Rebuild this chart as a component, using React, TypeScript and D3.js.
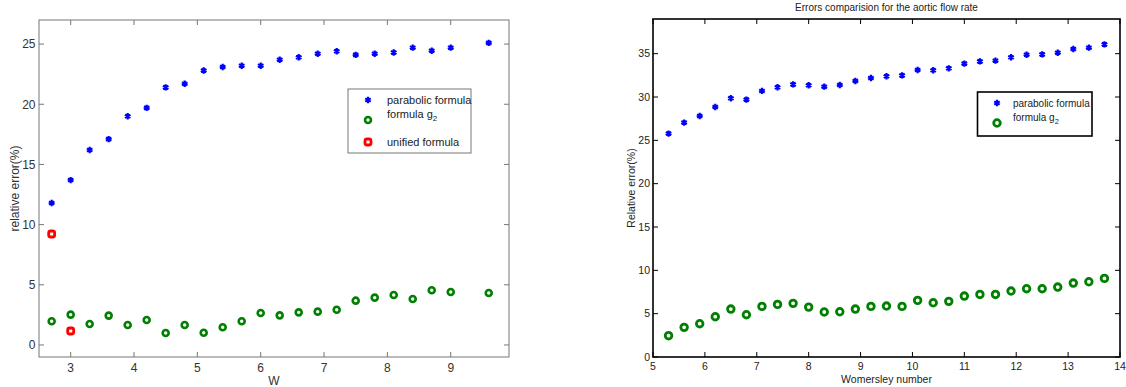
import React from 'react';
import * as d3 from 'd3';

// left panel: relative error vs W
const leftW = [2.7, 3.0, 3.3, 3.6, 3.9, 4.2, 4.5, 4.8, 5.1, 5.4, 5.7, 6.0, 6.3, 6.6, 6.9, 7.2, 7.5, 7.8, 8.1, 8.4, 8.7, 9.0, 9.6];
const leftParabolic = [11.8, 13.7, 16.2, 17.1, 19.0, 19.7, 21.4, 21.7, 22.8, 23.1, 23.2, 23.2, 23.7, 23.9, 24.2, 24.4, 24.1, 24.2, 24.3, 24.7, 24.45, 24.7, 25.1];
const leftG2 = [1.97, 2.52, 1.74, 2.44, 1.66, 2.08, 1.0, 1.66, 1.02, 1.47, 1.97, 2.66, 2.46, 2.71, 2.77, 2.93, 3.68, 3.93, 4.15, 3.82, 4.54, 4.4, 4.32];
const unifiedW = [2.7, 3.0];
const unifiedErr = [9.22, 1.16];
const leftXTicks = [3, 4, 5, 6, 7, 8, 9];
const leftYTicks = [0, 5, 10, 15, 20, 25];

// right panel: aortic flow rate
const rightWom = [5.3, 5.6, 5.9, 6.2, 6.5, 6.8, 7.1, 7.4, 7.7, 8.0, 8.3, 8.6, 8.9, 9.2, 9.5, 9.8, 10.1, 10.4, 10.7, 11.0, 11.3, 11.6, 11.9, 12.2, 12.5, 12.8, 13.1, 13.4, 13.7];
const rightParabolic = [25.78, 27.05, 27.81, 28.85, 29.85, 29.7, 30.7, 31.12, 31.46, 31.35, 31.19, 31.39, 31.85, 32.19, 32.39, 32.5, 33.12, 33.08, 33.31, 33.85, 34.11, 34.19, 34.58, 34.88, 34.92, 35.11, 35.54, 35.69, 36.07];
const rightG2 = [2.46, 3.42, 3.84, 4.65, 5.53, 4.88, 5.84, 6.07, 6.19, 5.76, 5.19, 5.22, 5.53, 5.84, 5.88, 5.84, 6.53, 6.26, 6.42, 7.03, 7.22, 7.22, 7.61, 7.88, 7.88, 8.07, 8.53, 8.68, 9.07];
const rightXTicks = [5, 6, 7, 8, 9, 10, 11, 12, 13, 14];
const rightYTicks = [0, 5, 10, 15, 20, 25, 30, 35];

const BLUE = '#0000ff';
const GREEN = '#008000';
const RED = '#ff0000';
const FONT = 'Liberation Sans, Arial, Helvetica, sans-serif';

const star = d3.symbol(d3.symbolAsterisk, 28)();

const Star = ({x, y}: {x: number; y: number}) => (
    <path d={star} transform={`translate(${x},${y})`} fill="none" stroke={BLUE} strokeWidth={2.2}/>
);
const Ring = ({x, y, r = 3, w = 2.6}: {x: number; y: number; r?: number; w?: number}) => (
    <circle cx={x} cy={y} r={r} fill="#fff" stroke={GREEN} strokeWidth={w}/>
);
const RedBox = ({x, y}: {x: number; y: number}) => (
    <rect x={x - 3} y={y - 3} width={6} height={6} rx={2} fill="#fff" stroke={RED} strokeWidth={2.8}/>
);

const LeftPanel = () => {
    const L = 39, R = 509, T = 20, B = 357;
    const x = d3.scaleLinear().domain([2.5, 9.92]).range([L, R]);
    const y = d3.scaleLinear().domain([-1, 27]).range([B, T]);
    const frame = '#777';
    const tk = 5;
    return (
        <g fontFamily={FONT}>
            <rect x={L} y={T} width={R - L} height={B - T} fill="#fff" stroke={frame} strokeWidth={1}/>
            {leftXTicks.map(t => (
                <g key={'x' + t}>
                    <line x1={x(t)} x2={x(t)} y1={B} y2={B - tk} stroke={frame}/>
                    <line x1={x(t)} x2={x(t)} y1={T} y2={T + tk} stroke={frame}/>
                    <text x={x(t)} y={372} textAnchor="middle" fontSize={12} fill="#333">{t}</text>
                </g>
            ))}
            {leftYTicks.map(t => (
                <g key={'y' + t}>
                    <line x1={L} x2={L + tk} y1={y(t)} y2={y(t)} stroke={frame}/>
                    <line x1={R} x2={R - tk} y1={y(t)} y2={y(t)} stroke={frame}/>
                    <text x={35.5} y={y(t) + 4.3} textAnchor="end" fontSize={12} fill="#333">{t}</text>
                </g>
            ))}
            <text x={(L + R) / 2} y={385} textAnchor="middle" fontSize={12} fill="#333">W</text>
            <text transform={`translate(19,${(T + B) / 2}) rotate(-90)`} textAnchor="middle" fontSize={12} fill="#333">relative error(%)</text>

            {leftW.map((w, i) => <Star key={'p' + i} x={x(w)} y={y(leftParabolic[i])}/>)}
            {leftW.map((w, i) => <Ring key={'g' + i} x={x(w)} y={y(leftG2[i])}/>)}
            {unifiedW.map((w, i) => <RedBox key={'u' + i} x={x(w)} y={y(unifiedErr[i])}/>)}

            <rect x={348} y={89} width={123} height={64} fill="#fff" stroke={frame} strokeWidth={1}/>
            <Star x={368} y={100}/>
            <text x={387} y={104} fontSize={11} fill="#222">parabolic formula</text>
            <Ring x={368} y={120}/>
            <text x={387} y={118} fontSize={11} fill="#222">formula g<tspan fontSize={8} dy={3}>2</tspan></text>
            <RedBox x={368} y={142}/>
            <text x={387} y={146} fontSize={11} fill="#222">unified formula</text>
        </g>
    );
};

const RightPanel = () => {
    const L = 653, R = 1120, T = 19, B = 357;
    const x = d3.scaleLinear().domain([5, 14]).range([L, R]);
    const y = d3.scaleLinear().domain([0, 39]).range([B, T]);
    const tk = 5;
    return (
        <g fontFamily={FONT}>
            <text x={(L + R) / 2} y={11} textAnchor="middle" fontSize={10} fill="#222">Errors comparision for the aortic flow rate</text>
            <rect x={L} y={T} width={R - L} height={B - T} fill="#fff" stroke="#000" strokeWidth={1.6}/>
            {rightXTicks.map(t => (
                <g key={'x' + t}>
                    <line x1={x(t)} x2={x(t)} y1={B} y2={B - tk} stroke="#000"/>
                    <line x1={x(t)} x2={x(t)} y1={T} y2={T + tk} stroke="#000"/>
                    <text x={x(t)} y={370} textAnchor="middle" fontSize={10.5} fill="#222">{t}</text>
                </g>
            ))}
            {rightYTicks.map(t => (
                <g key={'y' + t}>
                    <line x1={L} x2={L + tk} y1={y(t)} y2={y(t)} stroke="#000"/>
                    <line x1={R} x2={R - tk} y1={y(t)} y2={y(t)} stroke="#000"/>
                    <text x={650} y={y(t) + 3.7} textAnchor="end" fontSize={10.5} fill="#222">{t}</text>
                </g>
            ))}
            <text x={(L + R) / 2} y={383} textAnchor="middle" fontSize={10.5} fill="#222">Womersley number</text>
            <text transform={`translate(634.5,${(T + B) / 2}) rotate(-90)`} textAnchor="middle" fontSize={10.5} fill="#222">Relative error(%)</text>

            {rightWom.map((w, i) => <Star key={'p' + i} x={x(w)} y={y(rightParabolic[i])}/>)}
            {rightWom.map((w, i) => <Ring key={'g' + i} x={x(w)} y={y(rightG2[i])} r={3.3} w={2.8}/>)}

            <rect x={977.5} y={92} width={114.5} height={44} fill="#fff" stroke="#000" strokeWidth={1.6}/>
            <Star x={997} y={103}/>
            <text x={1013} y={107} fontSize={10} fill="#222">parabolic formula</text>
            <Ring x={997} y={123} r={3.3} w={2.8}/>
            <text x={1013} y={121} fontSize={10} fill="#222">formula g<tspan fontSize={7.5} dy={3}>2</tspan></text>
        </g>
    );
};

export default function App() {
    return (
        <svg width={1126} height={387} style={{position: 'absolute', left: 0, top: 0, background: '#fff'}}>
            <rect width={1126} height={387} fill="#fff"/>
            <LeftPanel/>
            <RightPanel/>
        </svg>
    );
}
